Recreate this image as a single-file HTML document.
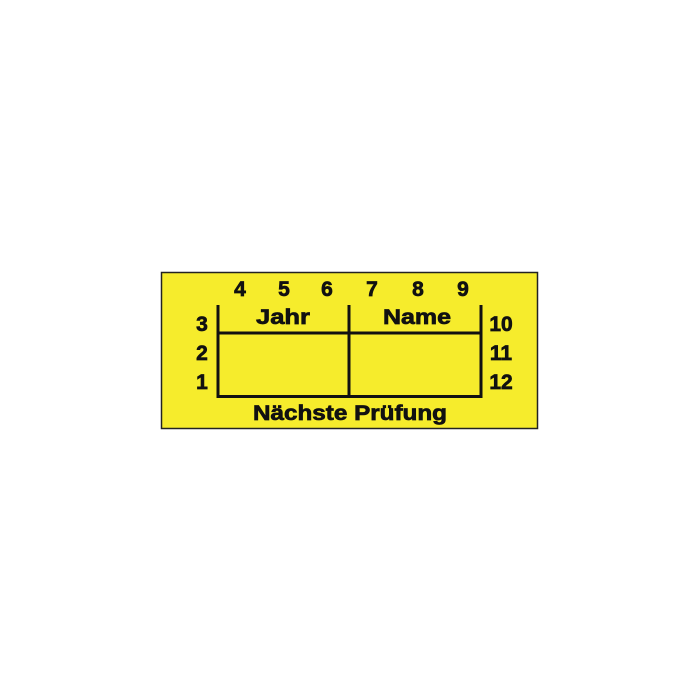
<!DOCTYPE html>
<html><head><style>
html,body{margin:0;padding:0;background:#fff;width:700px;height:700px;overflow:hidden}
</style></head><body>
<svg width="700" height="700" viewBox="0 0 700 700" xmlns="http://www.w3.org/2000/svg">
<rect x="161.5" y="272.5" width="376" height="156" fill="#f6ec2c" stroke="#222" stroke-width="1.5"/>
<g stroke="#111" stroke-width="3" fill="none">
<line x1="218" y1="305" x2="218" y2="398"/>
<line x1="349" y1="305" x2="349" y2="398"/>
<line x1="481" y1="305" x2="481" y2="398"/>
<line x1="218" y1="333" x2="481" y2="333"/>
<line x1="216.5" y1="396.5" x2="482.5" y2="396.5"/>
</g>
<g font-family="Liberation Sans, sans-serif" font-weight="bold" font-size="21" fill="#111" stroke="#111" stroke-width="0.7" text-anchor="middle">
<text x="240" y="296">4</text>
<text x="284" y="296">5</text>
<text x="327" y="296">6</text>
<text x="372" y="296">7</text>
<text x="418" y="296">8</text>
<text x="463" y="296">9</text>
<text x="202" y="331">3</text>
<text x="202" y="360">2</text>
<text x="202" y="389">1</text>
<text x="501" y="331">10</text>
<text x="501" y="360">11</text>
<text x="501" y="389">12</text>
<text x="283" y="324" textLength="54" lengthAdjust="spacingAndGlyphs">Jahr</text>
<text x="417" y="324" textLength="68" lengthAdjust="spacingAndGlyphs">Name</text>
<text x="350" y="420" textLength="194" lengthAdjust="spacingAndGlyphs">Nächste Prüfung</text>
</g>
</svg>
</body></html>
